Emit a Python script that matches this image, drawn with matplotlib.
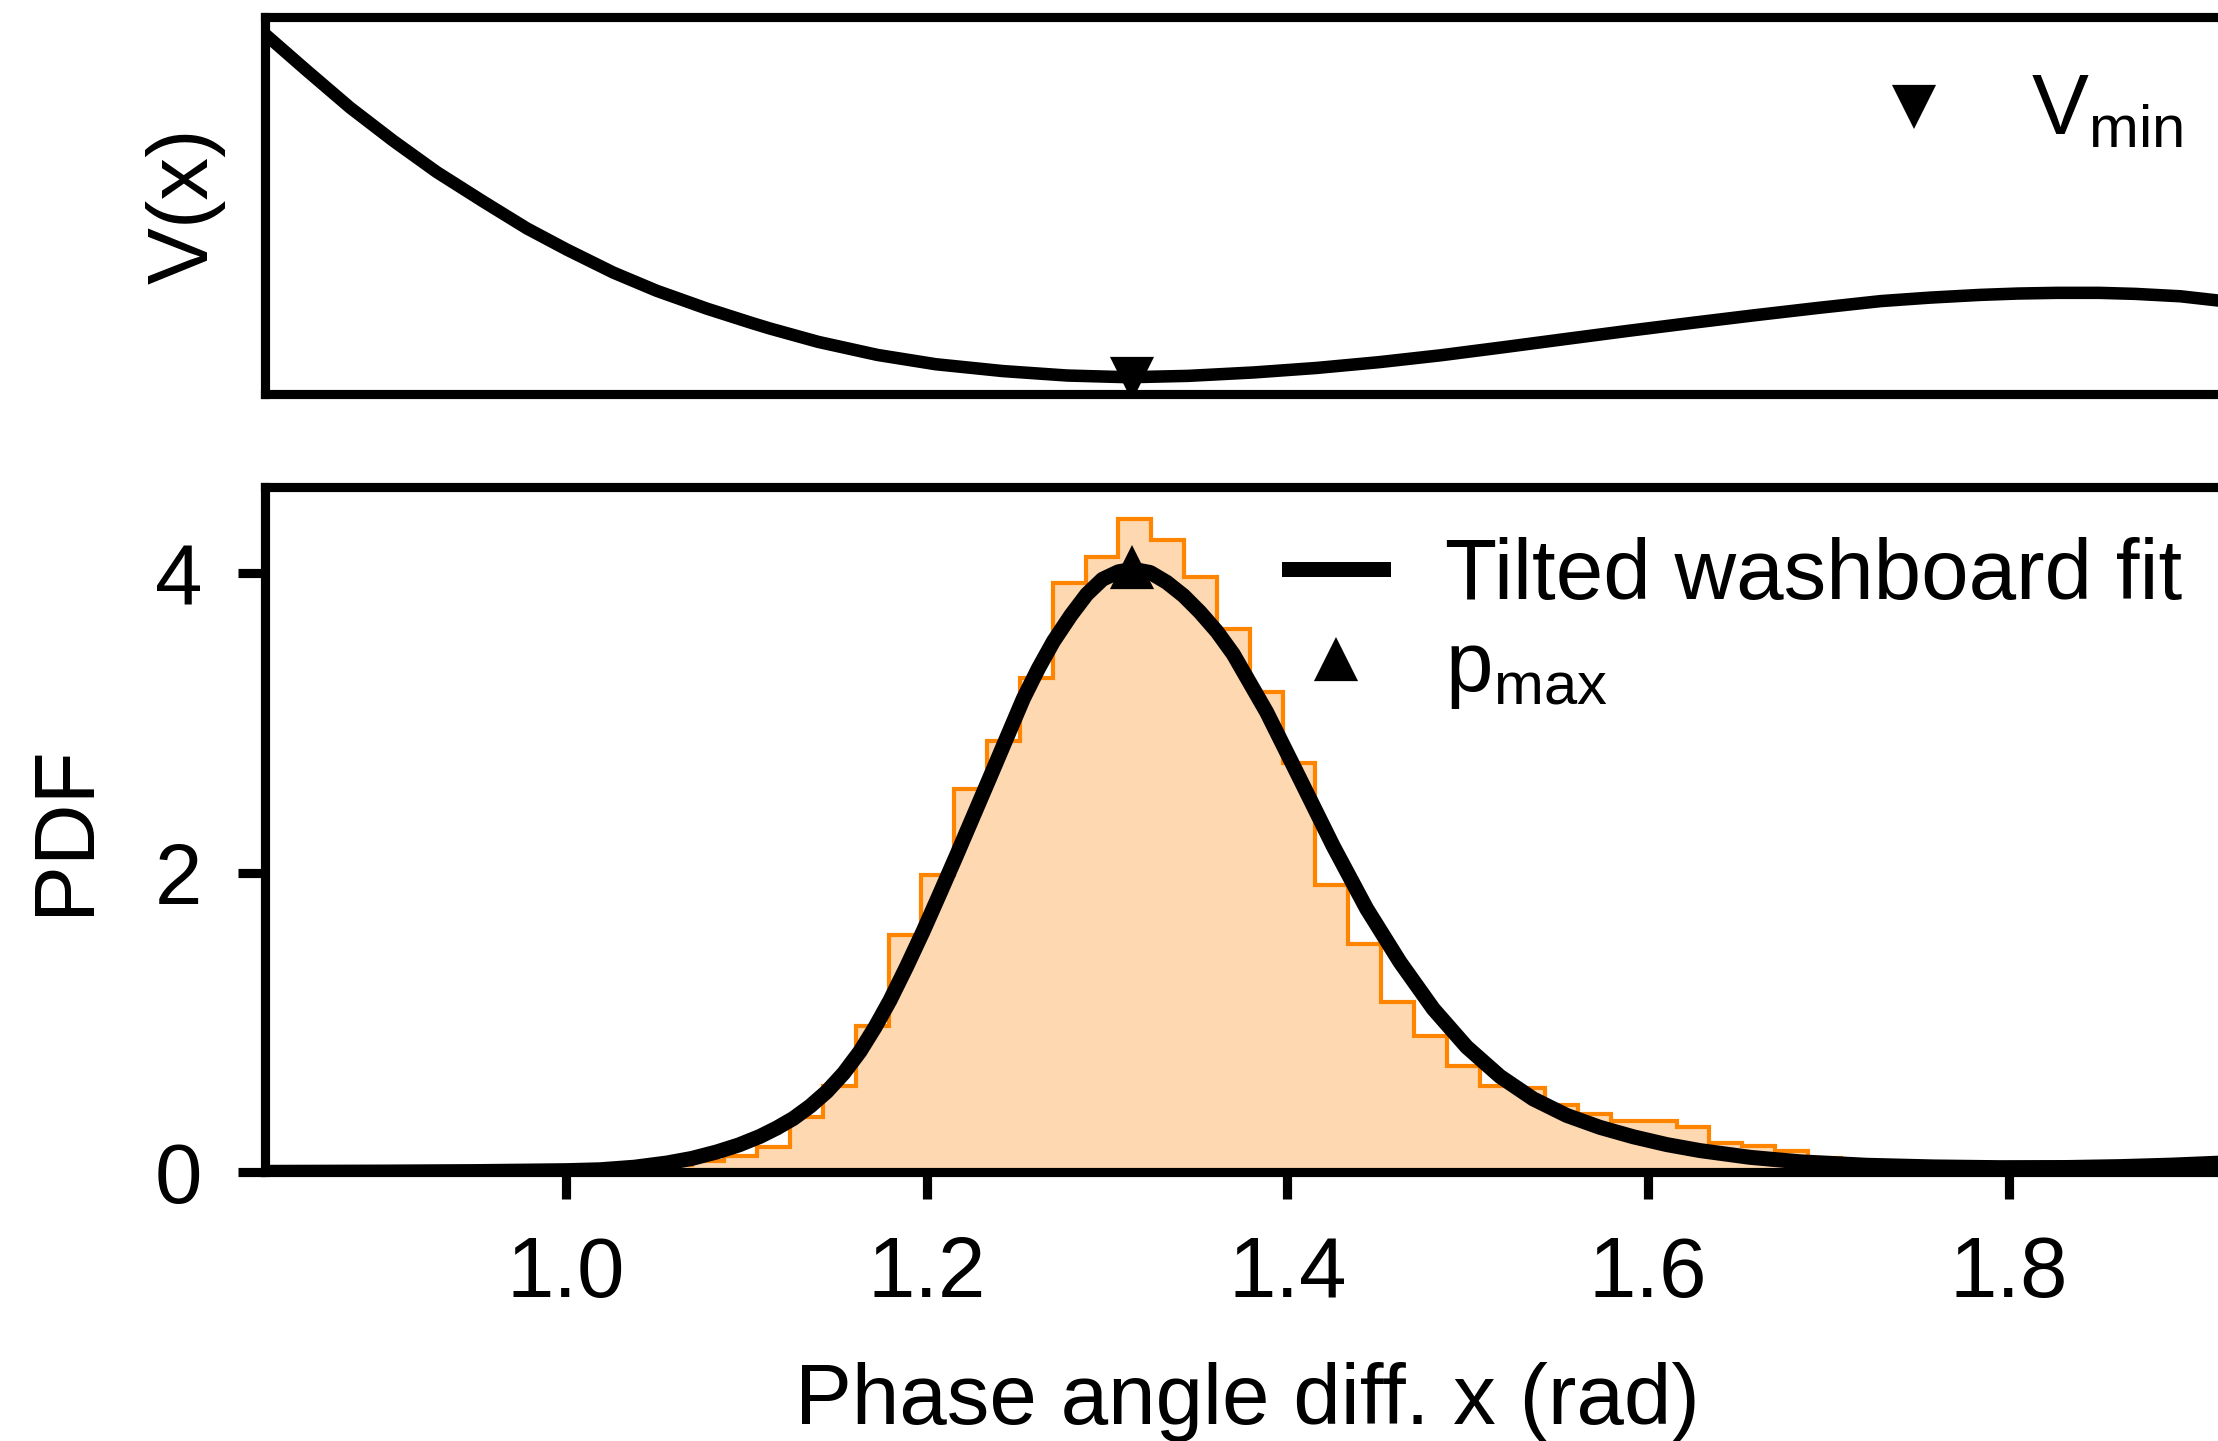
import numpy as np
import matplotlib.pyplot as plt

# tilted washboard potential V(x), arbitrary units (top panel has no y scale)
v_x = [0.8333, 0.8564, 0.8804, 0.9044, 0.9285, 0.9543, 0.9784, 1.0006, 1.0264,
       1.0504, 1.0782, 1.1032, 1.1132, 1.1400, 1.1728, 1.2050, 1.2423, 1.2780,
       1.3121, 1.3450, 1.3814, 1.4160, 1.4509, 1.4850, 1.5205, 1.5550, 1.5900,
       1.6250, 1.6595, 1.6940, 1.7290, 1.7560, 1.7839, 1.8050, 1.8265, 1.8500,
       1.8700, 1.8950, 1.9153, 1.9500]
v_val = [1.000, 0.894, 0.786, 0.689, 0.598, 0.512, 0.434, 0.372, 0.305,
         0.252, 0.200, 0.158, 0.142, 0.103, 0.065, 0.038, 0.018, 0.005,
         0.000, 0.004, 0.014, 0.027, 0.044, 0.064, 0.088, 0.112, 0.136,
         0.159, 0.181, 0.202, 0.222, 0.232, 0.240, 0.244, 0.246, 0.246,
         0.243, 0.236, 0.224, 0.202]

# histogram of the measured phase angle difference (density)
bin_start = 1.0333
bin_width = 0.0182
hist_heights = [0.01, 0.05, 0.077, 0.11, 0.166, 0.369, 0.575, 0.980, 1.582,
                1.985, 2.560, 2.879, 3.302, 3.937, 4.110, 4.361, 4.220, 3.976,
                3.630, 3.207, 2.730, 1.916, 1.523, 1.135, 0.912, 0.712, 0.575,
                0.563, 0.449, 0.390, 0.345, 0.340, 0.305, 0.198, 0.178, 0.144,
                0.093, 0.02]

# fitted PDF
fit_x = [0.8333, 0.90, 0.95, 1.00, 1.019, 1.038, 1.056, 1.070, 1.0837, 1.096,
         1.1077, 1.1170, 1.1262, 1.1355, 1.1447, 1.1540, 1.1631, 1.1715, 1.1798,
         1.1890, 1.1982, 1.2075, 1.2167, 1.2352, 1.2536, 1.2620, 1.2703, 1.2800,
         1.2888, 1.2975, 1.3063, 1.3146, 1.3240, 1.3331, 1.3425, 1.3516, 1.3610,
         1.3700, 1.3885, 1.4070, 1.4254, 1.4439, 1.4624, 1.4809, 1.4994, 1.5179,
         1.5363, 1.5548, 1.5733, 1.5918, 1.6103, 1.6287, 1.6564, 1.6842, 1.7211,
         1.7581, 1.7950, 1.8320, 1.8615, 1.8900, 1.9300]
fit_pdf = [0.0, 0.002, 0.005, 0.011, 0.017, 0.034, 0.062, 0.093, 0.136, 0.183,
           0.240, 0.296, 0.360, 0.442, 0.539, 0.661, 0.807, 0.970, 1.150,
           1.375, 1.612, 1.865, 2.119, 2.640, 3.162, 3.365, 3.545, 3.720,
           3.860, 3.960, 4.010, 4.027, 4.005, 3.940, 3.850, 3.740, 3.610,
           3.460, 3.073, 2.626, 2.178, 1.761, 1.404, 1.091, 0.837, 0.640,
           0.490, 0.380, 0.300, 0.237, 0.185, 0.145, 0.100, 0.070, 0.047,
           0.036, 0.031, 0.032, 0.038, 0.048, 0.068]

x_at_min = 1.314
v_min = 0.0
p_max = 4.027

plt.rcParams['font.family'] = ['Liberation Sans', 'DejaVu Sans']
plt.rcParams['mathtext.default'] = 'regular'
plt.rcParams['font.size'] = 20.5
plt.rcParams['axes.linewidth'] = 2.2
plt.rcParams['xtick.major.width'] = 2.2
plt.rcParams['ytick.major.width'] = 2.2
plt.rcParams['xtick.major.size'] = 6.5
plt.rcParams['ytick.major.size'] = 6.5
plt.rcParams['xtick.major.pad'] = 8.5
plt.rcParams['ytick.major.pad'] = 8.5

fig = plt.figure(figsize=(2218 / 300, 1441 / 300), dpi=300)
ax1 = fig.add_axes([0.1195, 0.7263, 0.8855, 0.2619])
ax2 = fig.add_axes([0.1195, 0.18647, 0.8855, 0.47523])

xlim = (0.8333, 1.922)

# top: potential
ax1.plot(v_x, v_val, color='black', lw=3.0, zorder=2)
ax1.plot([x_at_min], [v_min], 'v', color='black', ms=8, mew=1.5,
         ls='none', zorder=3, label=r'$V_{min}$')
ax1.set_xlim(xlim)
ax1.set_xticks([])
ax1.set_yticks([])
ax1.set_ylabel('V(x)', labelpad=9.5)
ax1.legend(loc='center left', bbox_to_anchor=(0.8408, 0.9216),
           bbox_transform=fig.transFigure, frameon=False, borderpad=0,
           borderaxespad=0, handlelength=1.15, handletextpad=0.8)

# bottom: histogram + fit
edges = bin_start + bin_width * np.arange(len(hist_heights) + 1)
ax2.stairs(hist_heights, edges, fill=True, color='#fdd8b0', zorder=1)
ax2.stairs(hist_heights, edges, color='#ff8400', lw=1.0, zorder=1.5)
ax2.plot(fit_x, fit_pdf, color='black', lw=3.6, zorder=2,
         label='Tilted washboard fit')
ax2.plot([x_at_min], [p_max], '^', color='black', ms=8, mew=1.5,
         ls='none', zorder=3, label=r'$p_{max}$')
ax2.set_xlim(xlim)
ax2.set_ylim(0, 4.573)
ax2.set_xticks([1.0, 1.2, 1.4, 1.6, 1.8])
ax2.set_yticks([0, 2, 4])
ax2.set_xlabel('Phase angle diff. x (rad)', labelpad=11.4)
ax2.set_ylabel('PDF', labelpad=11.7)
ax2.legend(loc='upper left', bbox_to_anchor=(0.5812, 0.6273),
           bbox_transform=fig.transFigure, frameon=False, borderpad=0,
           borderaxespad=0, handlelength=1.1, handletextpad=0.72,
           labelspacing=0.135)

fig.savefig('out.png', dpi=300)
